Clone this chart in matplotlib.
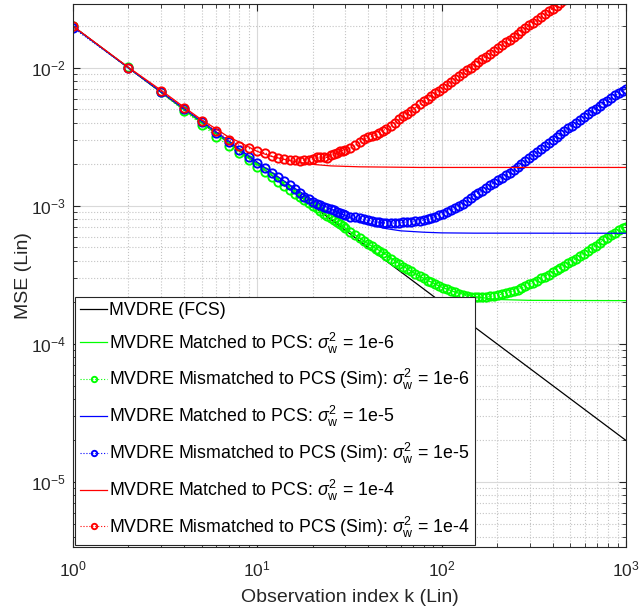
import numpy as np
import matplotlib
matplotlib.use("Agg")
import matplotlib.pyplot as plt

plt.rcParams['font.family'] = ['Liberation Sans', 'DejaVu Sans']
plt.rcParams['mathtext.fontset'] = 'custom'
plt.rcParams['mathtext.rm'] = 'Liberation Sans'
plt.rcParams['mathtext.it'] = 'Liberation Sans:italic'
plt.rcParams['mathtext.bf'] = 'Liberation Sans:bold'

# --- dados (k = índice de observação) ---
k_fcs = [1, 10, 100, 1000]
mse_fcs = [0.02, 0.002, 0.0002, 0.00002]

# curvas "matched" (teóricas)
k_m6 = [1, 2, 3, 5, 7, 10, 15, 20, 30, 40, 50, 60, 70, 80, 100, 120, 150, 200, 300, 1000]
mse_m6 = [0.02, 0.01, 0.00667, 0.004, 0.00286, 0.002, 0.00134, 0.00101, 6.9e-4, 5.3e-4,
          4.45e-4, 3.75e-4, 3.3e-4, 2.98e-4, 2.58e-4, 2.36e-4, 2.2e-4, 2.1e-4, 2.07e-4, 2.06e-4]

k_m5 = [1, 2, 3, 5, 7, 10, 15, 20, 25, 30, 35, 40, 50, 60, 80, 100, 150, 1000]
mse_m5 = [0.02, 0.01, 0.0067, 0.0041, 0.00295, 0.00207, 0.00142, 0.0011, 9.5e-4, 8.5e-4,
          7.8e-4, 7.35e-4, 6.85e-4, 6.6e-4, 6.45e-4, 6.38e-4, 6.35e-4, 6.34e-4]

k_m4 = [1, 2, 3, 4, 5, 6, 7, 8, 10, 12, 15, 17, 20, 25, 36, 76, 1000]
mse_m4 = [0.0201, 0.0101, 0.0069, 0.0052, 0.0042, 0.0036, 0.00315, 0.0029, 0.00248, 0.00228,
          0.00213, 0.00207, 0.002, 0.00195, 0.00192, 0.0019, 0.0019]

# curvas "mismatched" (simulação)
k_sim = [1, 2, 3, 4, 5, 6, 7, 8, 9, 10, 11, 12, 13, 14, 15, 16, 17, 18, 19, 20,
         21, 22, 23, 24, 25, 26, 27, 28, 29, 30, 32, 34, 36, 38, 40, 42, 44, 46, 48, 50,
         53, 56, 59, 62, 65, 68, 72, 76, 80, 84, 88, 92, 97, 102, 107, 112, 118, 124, 130, 137,
         144, 151, 158, 166, 174, 183, 192, 202, 212, 223, 234, 246, 258, 271, 285, 299, 314, 330, 346, 363,
         381, 400, 420, 441, 463, 486, 510, 536, 563, 591, 621, 652, 685, 719, 755, 793, 833, 875, 919, 960,
         1000]

sim_6 = [0.0200, 0.0101, 0.00665, 0.00490, 0.00388, 0.00318, 0.00272, 0.00240, 0.00216, 0.00193,
         0.00177, 0.00162, 0.00150, 0.00139, 0.00130, 0.00123, 0.00116, 0.00110, 0.00105, 0.00100,
         9.6e-4, 9.2e-4, 8.8e-4, 8.5e-4, 8.2e-4, 7.9e-4, 7.6e-4, 7.35e-4, 7.1e-4, 6.9e-4,
         6.5e-4, 6.15e-4, 5.85e-4, 5.58e-4, 5.32e-4, 5.1e-4, 4.9e-4, 4.7e-4, 4.53e-4, 4.37e-4,
         4.15e-4, 3.95e-4, 3.78e-4, 3.62e-4, 3.48e-4, 3.36e-4, 3.22e-4, 3.1e-4, 2.98e-4, 2.88e-4,
         2.8e-4, 2.72e-4, 2.63e-4, 2.55e-4, 2.49e-4, 2.43e-4, 2.37e-4, 2.32e-4, 2.27e-4, 2.23e-4,
         2.2e-4, 2.18e-4, 2.18e-4, 2.19e-4, 2.2e-4, 2.21e-4, 2.23e-4, 2.26e-4, 2.3e-4, 2.34e-4,
         2.38e-4, 2.42e-4, 2.48e-4, 2.55e-4, 2.62e-4, 2.7e-4, 2.78e-4, 2.88e-4, 2.98e-4, 3.08e-4,
         3.18e-4, 3.3e-4, 3.42e-4, 3.55e-4, 3.7e-4, 3.85e-4, 4.0e-4, 4.16e-4, 4.33e-4, 4.52e-4,
         4.72e-4, 4.93e-4, 5.15e-4, 5.38e-4, 5.62e-4, 5.87e-4, 6.13e-4, 6.4e-4, 6.68e-4, 6.9e-4,
         7.05e-4]

sim_5 = [0.0195, 0.0100, 0.00670, 0.00500, 0.00408, 0.00335, 0.00290, 0.00254, 0.00226, 0.00206,
         0.00188, 0.00173, 0.00161, 0.00151, 0.00141, 0.00132, 0.00124, 0.00117, 0.00112, 0.00107,
         0.00104, 0.00101, 9.9e-4, 9.7e-4, 9.5e-4, 9.3e-4, 9.05e-4, 8.85e-4, 8.7e-4, 8.55e-4,
         8.35e-4, 8.25e-4, 8.12e-4, 7.98e-4, 7.85e-4, 7.75e-4, 7.68e-4, 7.62e-4, 7.56e-4, 7.52e-4,
         7.5e-4, 7.52e-4, 7.55e-4, 7.6e-4, 7.66e-4, 7.7e-4, 7.76e-4, 7.83e-4, 7.92e-4, 8.02e-4,
         8.2e-4, 8.35e-4, 8.55e-4, 8.8e-4, 9.05e-4, 9.3e-4, 9.65e-4, 1.0e-3, 1.04e-3, 1.09e-3,
         1.14e-3, 1.19e-3, 1.24e-3, 1.29e-3, 1.35e-3, 1.41e-3, 1.47e-3, 1.53e-3, 1.6e-3, 1.67e-3,
         1.74e-3, 1.82e-3, 1.91e-3, 2.0e-3, 2.1e-3, 2.21e-3, 2.33e-3, 2.45e-3, 2.57e-3, 2.7e-3,
         2.85e-3, 3.0e-3, 3.15e-3, 3.3e-3, 3.47e-3, 3.64e-3, 3.82e-3, 4.0e-3, 4.2e-3, 4.4e-3,
         4.62e-3, 4.84e-3, 5.06e-3, 5.3e-3, 5.55e-3, 5.8e-3, 6.05e-3, 6.32e-3, 6.6e-3, 6.82e-3,
         7.05e-3]

sim_4 = [0.0201, 0.0100, 0.00675, 0.00510, 0.00415, 0.00348, 0.00300, 0.00274, 0.00262, 0.00250,
         0.00243, 0.00230, 0.00222, 0.00218, 0.00216, 0.00216, 0.00213, 0.00215, 0.00216, 0.00219,
         0.00225, 0.00225, 0.00226, 0.00224, 0.00232, 0.00238, 0.00243, 0.00248, 0.00252, 0.00255,
         0.00262, 0.00275, 0.00290, 0.00305, 0.00315, 0.00320, 0.00328, 0.00337, 0.00350, 0.00362,
         0.00380, 0.00400, 0.00423, 0.00445, 0.00466, 0.00487, 0.00515, 0.00545, 0.00573, 0.00600,
         0.00628, 0.00655, 0.00685, 0.00720, 0.00755, 0.00790, 0.00830, 0.00870, 0.00915, 0.00960,
         0.0100, 0.01054, 0.0110, 0.01154, 0.01207, 0.01267, 0.01327, 0.01393, 0.0146, 0.01532,
         0.01604, 0.01683, 0.01762, 0.01847, 0.01939, 0.0203, 0.02128, 0.02232, 0.02336, 0.02445,
         0.02562, 0.02685, 0.02813, 0.02948, 0.03089, 0.03237]

labels = ['MVDRE (FCS)',
          r'MVDRE Matched to PCS: $\sigma_\mathrm{w}^2$ = 1e-6',
          r'MVDRE Mismatched to PCS (Sim): $\sigma_\mathrm{w}^2$ = 1e-6',
          r'MVDRE Matched to PCS: $\sigma_\mathrm{w}^2$ = 1e-5',
          r'MVDRE Mismatched to PCS (Sim): $\sigma_\mathrm{w}^2$ = 1e-5',
          r'MVDRE Matched to PCS: $\sigma_\mathrm{w}^2$ = 1e-4',
          r'MVDRE Mismatched to PCS (Sim): $\sigma_\mathrm{w}^2$ = 1e-4']

fig = plt.figure(figsize=(6.39, 6.14), dpi=100)
ax = fig.add_axes([0.1142, 0.1091, 0.8654, 0.8836])

sim_style = dict(linestyle=':', linewidth=0.8, marker='o', markersize=6,
                 markerfacecolor='none', markeredgewidth=1.35)

ax.plot(k_fcs, mse_fcs, color='k', linewidth=0.9, label=labels[0])
ax.plot(k_m6, mse_m6, color=(0, 1, 0), linewidth=0.9, label=labels[1])
ax.plot(k_sim, sim_6, color=(0, 1, 0), label=labels[2], **sim_style)
ax.plot(k_m5, mse_m5, color=(0, 0, 1), linewidth=0.9, label=labels[3])
ax.plot(k_sim, sim_5, color=(0, 0, 1), label=labels[4], **sim_style)
ax.plot(k_m4, mse_m4, color=(1, 0, 0), linewidth=0.9, label=labels[5])
ax.plot(k_sim[:len(sim_4)], sim_4, color=(1, 0, 0), label=labels[6], **sim_style)

ax.set_xscale('log')
ax.set_yscale('log')
ax.set_xlim(1, 1000)
ax.set_ylim(3.38e-6, 0.0288)

ax.grid(True, which='major', color='#d9d9d9', linestyle='-', linewidth=0.8)
ax.grid(True, which='minor', color='#c4c4c4', linestyle=':', linewidth=0.8)
ax.set_axisbelow(True)
ax.tick_params(which='both', direction='in', top=True, right=True, colors='#262626',
               labelsize=12.5)
ax.tick_params(axis='x', which='major', pad=9)
ax.tick_params(axis='y', which='major', pad=5)
ax.tick_params(which='major', length=5)
ax.tick_params(which='minor', length=3)
for s in ax.spines.values():
    s.set_color('#262626')
    s.set_linewidth(0.8)

ax.set_xlabel('Observation index k (Lin)', fontsize=14, color='#262626', labelpad=7)
ax.set_ylabel('MSE (Lin)', fontsize=14, color='#262626', labelpad=-1)

leg = ax.legend(loc='lower left', fontsize=12.75, frameon=True, fancybox=False,
                edgecolor='#262626', framealpha=1, borderaxespad=0.12,
                handlelength=1.5, handletextpad=0.1, labelspacing=0.66,
                markerscale=0.65, borderpad=0.3)
leg.get_frame().set_linewidth(0.8)

fig.savefig('out.png', dpi=100)
